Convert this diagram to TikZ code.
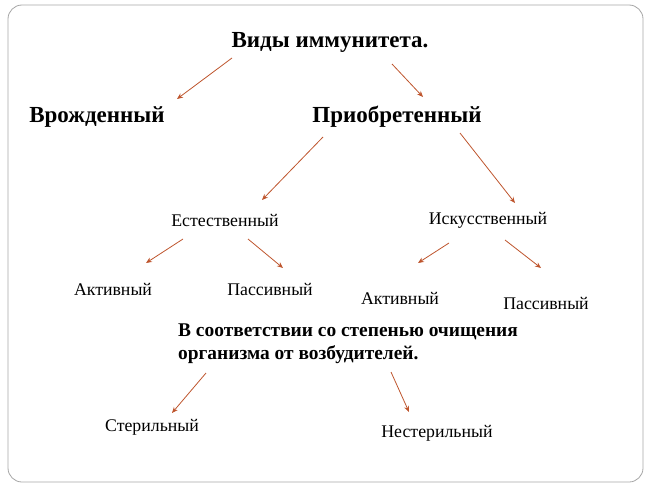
\documentclass[tikz,border=0pt]{standalone}
\usetikzlibrary{arrows.meta}
\usepackage{fontspec}
\setmainfont{Liberation Serif}
\begin{document}
\begin{tikzpicture}[x=1pt,y=-1pt,
  arr/.style={draw={rgb,255:red,190;green,85;blue,45},line width=0.8pt,-{Stealth[length=6pt,width=5pt]}},
  big/.style={font=\fontsize{23}{26}\selectfont\bfseries},
  med/.style={font=\fontsize{19.4}{23}\selectfont\bfseries,align=left},
  lab/.style={font=\fontsize{17.8}{20}\selectfont}]
\useasboundingbox (0,0) rectangle (650,487);
\draw[gray!70,line width=0.8pt,rounded corners=14pt] (8,5) rectangle (643,482);
\node[big] (t) at (330,42) {Виды иммунитета.};
\node[big] (v) at (97,117) {Врожденный};
\node[big] (p) at (397,117) {Приобретенный};
\node[lab] (e) at (225,220) {Естественный};
\node[lab] (i) at (488,220) {Искусственный};
\node[lab] (a1) at (113,289) {Активный};
\node[lab] (p1) at (270,289) {Пассивный};
\node[lab] (a2) at (400,298) {Активный};
\node[lab] (p2) at (546,303) {Пассивный};
\node[med,anchor=north west,inner sep=0pt] (s) at (178,324) {В соответствии со степенью очищения\\организма от возбудителей.};
\node[lab] (st) at (152,427) {Стерильный};
\node[lab] (ns) at (437,433) {Нестерильный};
\foreach \a/\b/\c/\d in {232/58/177/99, 392/64/423/97, 323/137/262/200, 460/133/515/203,
  183/239/146/263, 248/239/283/268, 449/243/418/263, 505/240/541/268, 206/373/172/413, 391/372/409/412}
  \draw[arr] (\a,\b) -- (\c,\d);
\end{tikzpicture}
\end{document}
